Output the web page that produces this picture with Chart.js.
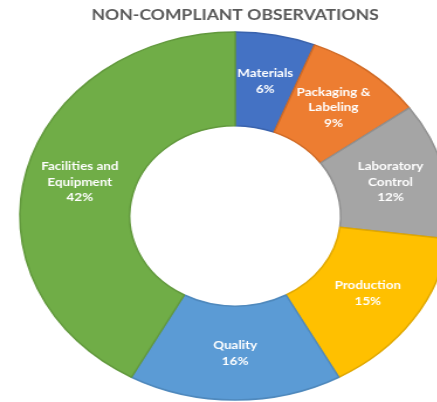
<!DOCTYPE html>
<html lang="en">

<head>
    <meta charset="UTF-8">
    <title>Non-compliant observations</title>
    <script src="https://cdn.jsdelivr.net/npm/chart.js"></script>
    <style>
        body { margin: 0; overflow: hidden; background: #fff; }
        #wrap { width: 402px; height: 402px; transform: scaleX(1.17); transform-origin: 0 0; }
    </style>
</head>

<body>
    <div id="wrap">
        <canvas id="myChart"></canvas>
    </div>

    <script>
        // chart data
        const categories = ['Materials', 'Packaging & Labeling', 'Laboratory Control', 'Production', 'Quality', 'Facilities and Equipment'];
        const labelLines = [['Materials'], ['Packaging &', 'Labeling'], ['Laboratory', 'Control'], ['Production'], ['Quality'], ['Facilities and', 'Equipment']];
        const percentages = [6, 9, 12, 15, 16, 42];

        const fillColors = ['#4472C4', '#ED7D31', '#A5A5A5', '#FFC000', '#5B9BD5', '#70AD47'];
        const edgeColors = ['#3a63ad', '#d06a25', '#909090', '#e0a800', '#4f89bd', '#62993d'];

        // white labels inside each slice
        const sliceLabels = {
            id: 'sliceLabels',
            afterDatasetsDraw(chart) {
                const ctx = chart.ctx;
                const meta = chart.getDatasetMeta(0);
                ctx.save();
                ctx.fillStyle = '#ffffff';
                ctx.font = 'bold 11.5px Lato';
                ctx.textAlign = 'center';
                ctx.textBaseline = 'middle';
                meta.data.forEach((arc, i) => {
                    const p = arc.getProps(['x', 'y', 'startAngle', 'endAngle', 'innerRadius', 'outerRadius']);
                    const a = (p.startAngle + p.endAngle) / 2;
                    const r = (p.innerRadius + p.outerRadius) / 2;
                    const cx = p.x + Math.cos(a) * r;
                    const cy = p.y + Math.sin(a) * r;
                    const lines = labelLines[i].concat([percentages[i] + '%']);
                    const lh = 15.5;
                    lines.forEach((t, k) => {
                        ctx.fillText(t, cx, cy + (k - (lines.length - 1) / 2) * lh);
                    });
                });
                ctx.restore();
            }
        };

        const data = {
            labels: categories,
            datasets: [{
                data: percentages,
                backgroundColor: fillColors,
                borderColor: edgeColors,
                borderWidth: 1.5,
                hoverOffset: 0
            }]
        };

        const config = {
            type: 'doughnut',
            data: data,
            options: {
                responsive: true,
                maintainAspectRatio: false,
                animation: false,
                radius: 184,
                cutout: '49%',
                layout: {
                    padding: { top: 0, bottom: 0, left: 0, right: 0 }
                },
                plugins: {
                    legend: { display: false },
                    tooltip: { enabled: false },
                    title: {
                        display: true,
                        text: 'NON-COMPLIANT OBSERVATIONS',
                        color: '#595959',
                        font: { family: 'Lato', size: 15, weight: 'bold', lineHeight: 1.2 },
                        padding: { top: 6, bottom: 6 }
                    }
                }
            },
            plugins: [sliceLabels]
        };

        new Chart(document.getElementById('myChart'), config);
    </script>
</body>

</html>
